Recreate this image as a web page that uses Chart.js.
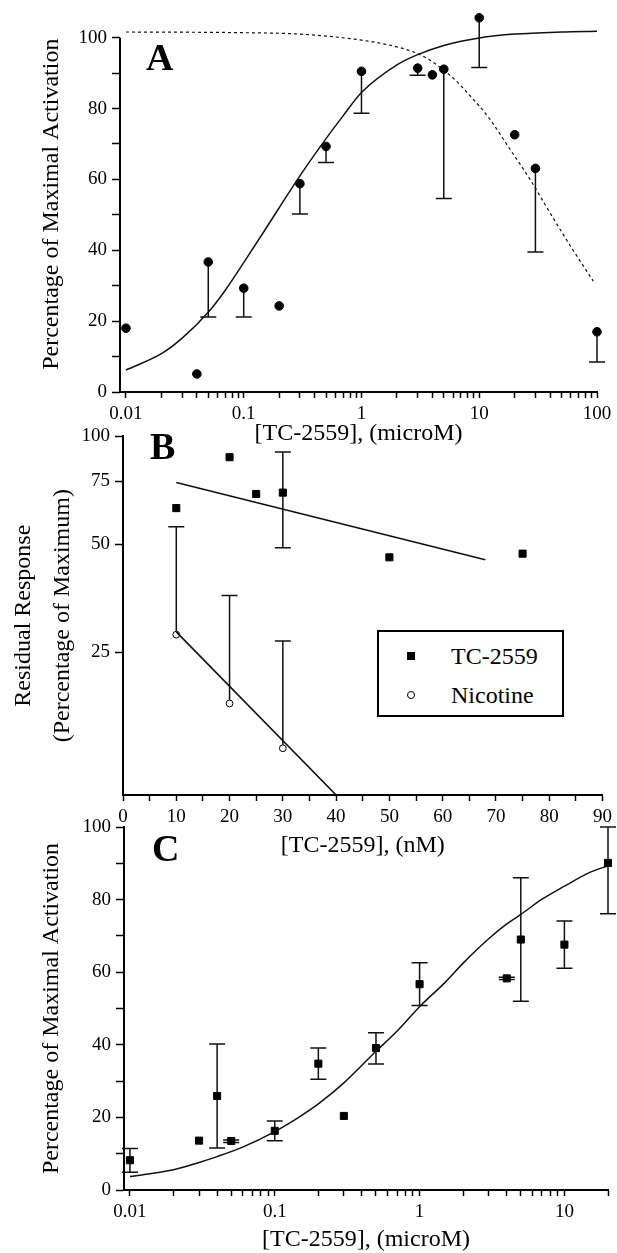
<!DOCTYPE html>
<html>
<head>
<meta charset="utf-8">
<script src="https://cdn.jsdelivr.net/npm/chart.js@4"></script>
<style>
  body { margin: 0; background: #fff; }
  #wrap { position: relative; width: 617px; height: 1253px; overflow: hidden; font-family: "Liberation Serif", "Times New Roman", serif; }
  canvas { position: absolute; left: 0; }
  .letter { position: absolute; font-size: 38px; font-weight: bold; line-height: 1; color: #000; }
  #legendB { position: absolute; left: 377px; top: 630px; width: 183px; height: 83px; border: 2px solid #000; background: #fff; }
  #legendB .item { position: absolute; left: 0; font-size: 24px; line-height: 1; }
  #legendB .mark { position: absolute; }
  #legendB .txt { position: absolute; left: 72px; white-space: nowrap; }
</style>
</head>
<body>
<div id="wrap">
  <canvas id="chartA" width="617" height="460" style="top:0px"></canvas>
  <canvas id="chartB" width="617" height="450" style="top:420px"></canvas>
  <canvas id="chartC" width="617" height="453" style="top:800px"></canvas>
  <div class="letter" style="left:146px;top:38px">A</div>
  <div class="letter" style="left:150px;top:427px">B</div>
  <div class="letter" style="left:152px;top:829px">C</div>
  <div id="legendB">
    <div class="item" style="top:12px">
      <span class="mark" style="left:28px;top:8px;width:8px;height:8px;background:#000"></span>
      <span class="txt">TC-2559</span>
    </div>
    <div class="item" style="top:51px">
      <span class="mark" style="left:28px;top:8px;width:6px;height:6px;border:1px solid #000;border-radius:50%"></span>
      <span class="txt">Nicotine</span>
    </div>
  </div>
</div>
<script>
// ---- panel A: activation vs [TC-2559] (microM) ----
const aX = [0.01, 0.04, 0.05, 0.1, 0.2, 0.3, 0.5, 1, 3, 4, 5, 10, 20, 30, 100];
const aY = [18.0, 5.1, 36.7, 29.3, 24.3, 58.8, 69.3, 90.5, 91.4, 89.5, 91.1, 105.6, 72.6, 63.1, 17.0];
const aErrLow = [null, null, 21.2, 21.2, null, 50.2, 64.8, 78.7, 89.4, null, 54.6, 91.6, null, 39.5, 8.5];
const aFitX = [0.01, 0.02, 0.03, 0.05, 0.07, 0.1, 0.15, 0.2, 0.3, 0.5, 0.7, 1, 2, 3, 5, 10, 20, 50, 100];
const aFitY = [6.2, 10.8, 15.2, 22.5, 28.8, 36.5, 45.5, 52, 61, 71.5, 78, 84.5, 92.3, 95.2, 97.8, 99.9, 101, 101.6, 101.8];
const aDashX = [0.01, 0.1, 0.3, 1, 2, 3, 4, 6, 8, 12, 18, 27, 40, 60, 93];
const aDashY = [101.6, 101.4, 101, 99.3, 97.4, 95.5, 93.2, 88.6, 84.3, 77.5, 68.8, 60, 50.5, 41, 31.3];
const aXLabels = [0.01, 0.1, 1, 10, 100];

// ---- panel B: residual response vs [TC-2559] (nM) ----
const bTcX = [10, 20, 25, 30, 50, 75];
const bTcY = [63.1, 87.5, 69.1, 69.7, 46.0, 47.1];
const bTcLow = [null, null, null, 48.9, null, null];
const bTcHigh = [null, null, null, 90.4, null, null];
const bNicX = [10, 20, 30];
const bNicY = [28.0, 18.0, 13.5];
const bNicHigh = [56.0, 36.0, 26.9];
const bTcFitX = [10, 68];
const bTcFitY = [74.4, 45.3];
const bNicFitX = [10, 40];
const bNicFitY = [28.5, 10];
const bYLabels = [25, 50, 75, 100];

// ---- panel C: activation vs [TC-2559] (microM) ----
const cX = [0.01, 0.03, 0.04, 0.05, 0.1, 0.2, 0.3, 0.5, 1, 4, 5, 10, 20];
const cY = [8.2, 13.6, 25.9, 13.5, 16.3, 34.8, 20.4, 39.1, 56.7, 58.3, 69.0, 67.6, 90.1];
const cErrLow = [4.9, null, 11.6, 13.1, 13.6, 30.5, null, 34.7, 50.8, 58.0, 52.0, 61.1, 76.1];
const cErrHigh = [11.4, null, 40.2, 13.8, 19.0, 39.1, null, 43.3, 62.6, 58.6, 86.0, 74.1, 100];
const cFitX = [0.01, 0.02, 0.03, 0.04, 0.06, 0.1, 0.15, 0.2, 0.3, 0.5, 0.7, 1, 1.5, 2, 3, 4, 5, 7, 10, 15, 20];
const cFitY = [3.7, 5.6, 7.6, 9.2, 11.8, 16.1, 20.3, 23.7, 29.5, 38.2, 43.8, 50.5, 57.2, 62.5, 69.2, 73.3, 75.9, 80.1, 83.7, 87.5, 89.3];
const cXLabels = [0.01, 0.1, 1, 10];

const serif = '"Liberation Serif", "Times New Roman", serif';
Chart.defaults.font.family = serif;
Chart.defaults.color = '#000';

const pts = (xs, ys) => xs.map((x, i) => ({ x: x, y: ys[i] }));

// error bars drawn under the markers
const errorBars = {
  id: 'errorBars',
  beforeDatasetsDraw(chart) {
    const ctx = chart.ctx;
    const xs = chart.scales.x, ys = chart.scales.y;
    chart.data.datasets.forEach(ds => {
      if (!ds.errLow && !ds.errHigh) return;
      ctx.save();
      ctx.strokeStyle = '#111';
      ctx.lineWidth = 1.5;
      ds.data.forEach((p, j) => {
        const px = xs.getPixelForValue(p.x);
        const py = ys.getPixelForValue(p.y);
        [ds.errLow, ds.errHigh].forEach(arr => {
          if (!arr || arr[j] == null) return;
          const ey = ys.getPixelForValue(arr[j]);
          ctx.beginPath();
          ctx.moveTo(px, py);
          ctx.lineTo(px, ey);
          ctx.moveTo(px - 8, ey);
          ctx.lineTo(px + 8, ey);
          ctx.stroke();
        });
      });
      ctx.restore();
    });
  }
};

// y axis line that stops at a given value (panel A has points above 100)
const yAxisLine = {
  id: 'yAxisLine',
  afterDraw(chart, args, opts) {
    if (opts.to == null) return;
    const ys = chart.scales.y, ctx = chart.ctx;
    const x = chart.chartArea.left;
    ctx.save();
    ctx.strokeStyle = '#000';
    ctx.lineWidth = 2;
    ctx.beginPath();
    ctx.moveTo(x, ys.getPixelForValue(opts.from) + 1);
    ctx.lineTo(x, ys.getPixelForValue(opts.to));
    ctx.stroke();
    ctx.restore();
  }
};

function logTicks(lo, hi) {
  const out = [];
  for (let e = -2; e <= 2; e++) {
    const d = Math.pow(10, e);
    for (let k = 1; k <= 9; k++) {
      const v = d * k;
      if (v >= lo * 0.999 && v <= hi * 1.001) out.push({ value: v });
    }
  }
  return out;
}

function linTicks(lo, hi, step) {
  const out = [];
  for (let v = lo; v <= hi; v += step) out.push({ value: v });
  return out;
}

function labelFrom(list) {
  return v => {
    const t = list.find(t => Math.abs(t - v) < t * 1e-6);
    return t === undefined ? '' : String(t);
  };
}

const gridStyle = len => ({ drawOnChartArea: false, tickLength: len, tickColor: '#000', tickWidth: 1.5 });
const borderStyle = { color: '#000', width: 2 };
const tickFont = { size: 19 };
const titleFont = { size: 24 };

function baseOptions(padding) {
  return {
    responsive: false,
    animation: false,
    layout: { padding: padding },
    plugins: { legend: { display: false }, tooltip: { enabled: false } },
  };
}

// ---------- A ----------
const optsA = baseOptions({ top: 12.5, right: 20, left: 0, bottom: 0 });
optsA.plugins.yAxisLine = { from: 0, to: 100 };
optsA.scales = {
  x: {
    type: 'logarithmic', min: 0.0089, max: 100,
    afterBuildTicks: s => { s.ticks = logTicks(0.01, 100); },
    afterFit: s => { s.height = 68; },
    ticks: { callback: labelFrom(aXLabels), autoSkip: false, maxRotation: 0, padding: 5, font: tickFont },
    grid: gridStyle(6), border: borderStyle,
    title: { display: true, text: '[TC-2559], (microM)', font: titleFont, padding: { top: 0, bottom: 12 } }
  },
  y: {
    min: 0, max: 106,
    afterBuildTicks: s => { s.ticks = linTicks(0, 100, 10); },
    ticks: { callback: v => v % 20 === 0 ? String(v) : '', padding: 5, font: tickFont },
    afterFit: s => { s.width = 120; },
    grid: gridStyle(8), border: { display: false },
    title: { display: true, text: 'Percentage of Maximal Activation', font: titleFont, padding: { top: 37, bottom: 0 } }
  }
};

new Chart(document.getElementById('chartA'), {
  type: 'scatter',
  data: {
    datasets: [
      { data: pts(aFitX, aFitY), showLine: true, pointRadius: 0, borderColor: '#111', borderWidth: 1.5, cubicInterpolationMode: 'monotone', clip: false },
      { data: pts(aDashX, aDashY), showLine: true, pointRadius: 0, borderColor: '#111', borderWidth: 1.2, borderDash: [3, 3], cubicInterpolationMode: 'monotone', clip: false },
      { data: pts(aX, aY), errLow: aErrLow, pointStyle: 'circle', pointRadius: 4.3, backgroundColor: '#000', borderColor: '#000', clip: false },
    ]
  },
  options: optsA,
  plugins: [errorBars, yAxisLine]
});

// ---------- B ----------
new Chart(document.getElementById('chartB'), {
  type: 'scatter',
  data: {
    datasets: [
      { data: pts(bTcFitX, bTcFitY), showLine: true, pointRadius: 0, borderColor: '#111', borderWidth: 1.6 },
      { data: pts(bNicFitX, bNicFitY), showLine: true, pointRadius: 0, borderColor: '#111', borderWidth: 1.6 },
      { label: 'TC-2559', data: pts(bTcX, bTcY), errLow: bTcLow, errHigh: bTcHigh, pointStyle: 'rect', pointRadius: 5, backgroundColor: '#000', borderColor: '#000' },
      { label: 'Nicotine', data: pts(bNicX, bNicY), errHigh: bNicHigh, pointStyle: 'circle', pointRadius: 3.4, backgroundColor: '#fff', borderColor: '#000', borderWidth: 1 },
    ]
  },
  options: Object.assign(baseOptions({ top: 12, right: 10, left: 0, bottom: 0 }), {
    scales: {
      x: {
        min: 0, max: 90,
        afterFit: s => { s.height = 75; },
        ticks: { stepSize: 5, callback: v => v % 10 === 0 ? String(v) : '', autoSkip: false, maxRotation: 0, padding: 5, font: tickFont },
        grid: gridStyle(6), border: borderStyle,
        title: { display: true, text: '[TC-2559], (nM)', font: titleFont, padding: { top: 0, bottom: 10 } }
      },
      y: {
        type: 'logarithmic', min: 10, max: 100,
        afterBuildTicks: s => { s.ticks = bYLabels.map(v => ({ value: v })); },
        afterFit: s => { s.width = 123; },
        ticks: { callback: labelFrom(bYLabels), padding: 5, font: tickFont },
        grid: gridStyle(8), border: borderStyle,
        title: { display: true, text: ['Residual Response', '(Percentage of Maximum)'], font: { size: 24, lineHeight: 1.62 }, padding: { top: 4, bottom: 0 } }
      }
    }
  }),
  plugins: [errorBars]
});

// ---------- C ----------
new Chart(document.getElementById('chartC'), {
  type: 'scatter',
  data: {
    datasets: [
      { data: pts(cFitX, cFitY), showLine: true, pointRadius: 0, borderColor: '#111', borderWidth: 1.5, cubicInterpolationMode: 'monotone' },
      { data: pts(cX, cY), errLow: cErrLow, errHigh: cErrHigh, pointStyle: 'rect', pointRadius: 5, backgroundColor: '#000', borderColor: '#000', clip: false },
    ]
  },
  options: Object.assign(baseOptions({ top: 27, right: 9, left: 0, bottom: 0 }), {
    scales: {
      x: {
        type: 'logarithmic', min: 0.0091, max: 20,
        afterBuildTicks: s => { s.ticks = logTicks(0.01, 20); },
        afterFit: s => { s.height = 63; },
        ticks: { callback: labelFrom(cXLabels), autoSkip: false, maxRotation: 0, padding: 5, font: tickFont },
        grid: gridStyle(6), border: borderStyle,
        title: { display: true, text: '[TC-2559], (microM)', font: { size: 24, lineHeight: 1 }, padding: { top: 0, bottom: 1 } }
      },
      y: {
        min: 0, max: 100,
        ticks: { stepSize: 10, callback: v => v % 20 === 0 ? String(v) : '', padding: 5, font: tickFont },
        afterFit: s => { s.width = 124; },
        grid: gridStyle(8), border: borderStyle,
        title: { display: true, text: 'Percentage of Maximal Activation', font: titleFont, padding: { top: 37, bottom: 0 } }
      }
    }
  }),
  plugins: [errorBars]
});
</script>
</body>
</html>
